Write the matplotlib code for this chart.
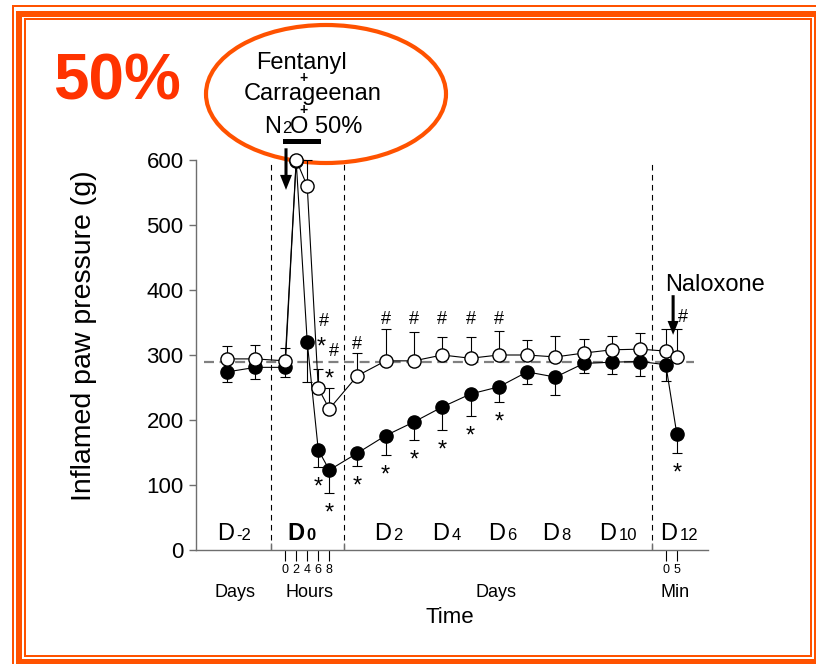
import numpy as np
import matplotlib
matplotlib.use("Agg")
from matplotlib import pyplot as plt
from matplotlib.patches import Ellipse, Rectangle

plt.rcParams["font.family"] = ["Liberation Sans", "DejaVu Sans"]

# protocol time points, by segment of the broken time axis
pre_days = [-2, -1]
hours = [0, 2, 4, 6, 8]
post_days = [1, 2, 3, 4, 5, 6, 7, 8, 9, 10, 11]
minutes = [0, 5]

# open circles: N2O 50% group, filled circles: control group (mean, SEM)
open_mean = [294, 294, 291, 600, 560, 249, 217, 268, 291, 291, 300, 295,
             300, 300, 297, 303, 308, 309, 306, 297]
open_sem = [20, 22, 20, 0, 40, 30, 32, 35, 49, 44, 27, 32, 37, 23, 33, 22,
            21, 25, 34, 43]
filled_mean = [274, 281, 281, 598, 320, 154, 123, 149, 176, 197, 220, 240,
               251, 274, 266, 287, 289, 290, 285, 178]
filled_sem = [16, 18, 15, 0, 62, 26, 35, 20, 30, 28, 35, 34, 23, 19, 28,
              15, 18, 22, 25, 29]
baseline_value = 290

# '*' under the control points (index into the series)
filled_star_idx = [5, 6, 7, 8, 9, 10, 11, 12, 19]

day_labels = [("D", "-2"), ("D", "0"), ("D", "2"), ("D", "4"), ("D", "6"),
              ("D", "8"), ("D", "10"), ("D", "12")]
hour_ticks = ["0", "2", "4", "6", "8"]
minute_ticks = ["0", "5"]


# piecewise positions along the compressed time axis
def pos_pre(d):
    return 3.1 + d


def pos_hour(h):
    return 3.15 + 0.195 * h


def pos_day(d):
    return 4.7 + d


def pos_min(m):
    return 16.6 + 0.078 * m


x = np.array([pos_pre(d) for d in pre_days] + [pos_hour(h) for h in hours]
             + [pos_day(d) for d in post_days] + [pos_min(m) for m in minutes])
open_mean = np.array(open_mean)
filled_mean = np.array(filled_mean)
open_sem = np.array(open_sem)
filled_sem = np.array(filled_sem)

breaks = [2.65, 5.23, 16.12]

W, H = 816, 664
fig = plt.figure(figsize=(W / 100, H / 100), dpi=100)
ax = fig.add_axes([196 / W, 1 - 550 / H, 512 / W, 390 / H])
ax.set_zorder(1)
ax.patch.set_visible(False)

orange = "#ff5200"
red = "#ff3300"


def fig_px(px, py):
    return px / W, 1 - py / H


# triple frame around the figure
for (l, t, r, b, lw) in [(13, 6, 840, 690, 2), (19, 14, 816.5, 661.5, 6),
                         (25, 19, 810.5, 655.5, 2)]:
    x0, y1 = fig_px(l, t)
    x1, y0 = fig_px(r, b)
    fig.add_artist(Rectangle((x0, y0), x1 - x0, y1 - y0, fill=False,
                             edgecolor=orange, lw=lw * 0.72,
                             transform=fig.transFigure, zorder=0.2))

# ellipse with the treatment
cx, cy = fig_px(326, 94)
fig.add_artist(Ellipse((cx, cy), 240 / W, 138 / H, fill=False,
                       edgecolor=orange, lw=3.0, transform=fig.transFigure,
                       zorder=0.5))
fig.text(*fig_px(301, 69), "Fentanyl", fontsize=17, ha="center",
         va="baseline")
fig.text(*fig_px(304, 78), "+", fontsize=10, fontweight="bold",
         ha="center", va="center")
fig.text(*fig_px(313, 100), "Carrageenan", fontsize=17, ha="center",
         va="baseline")
fig.text(*fig_px(304, 110), "+", fontsize=10, fontweight="bold",
         ha="center", va="center")
fig.text(*fig_px(281, 133), "N", fontsize=17, ha="right", va="baseline")
fig.text(*fig_px(282, 133), "2", fontsize=12, ha="left", va="baseline")
fig.text(*fig_px(290, 133), "O 50%", fontsize=17, ha="left", va="baseline")
fig.text(*fig_px(117, 100), "50%", fontsize=46, fontweight="bold",
         color=red, ha="center", va="baseline")

# reference line and segment separators
ax.plot([0.3, 17.6], [baseline_value] * 2, color="#808080", lw=1.6,
        dashes=(4.5, 2.5), zorder=1)
for b in breaks:
    ax.plot([b, b], [0, 600], color="black", lw=0.8, dashes=(5, 4),
            zorder=1)

# error bars: up for the open group, down for the filled group
zeros = np.zeros_like(open_sem)
ax.errorbar(x, open_mean, yerr=[zeros, open_sem], fmt="none",
            ecolor="black", elinewidth=0.8, capsize=3.5, capthick=0.8,
            zorder=2, clip_on=False)
ax.errorbar(x, filled_mean, yerr=[filled_sem, zeros], fmt="none",
            ecolor="black", elinewidth=0.8, capsize=3.5, capthick=0.8,
            zorder=2, clip_on=False)

ax.plot(x, filled_mean, "-", color="black", lw=0.8, marker="o", ms=9.5,
        mfc="black", mec="black", mew=1, zorder=3, clip_on=False)
ax.plot(x, open_mean, "-", color="black", lw=0.8, marker="o", ms=9.5,
        mfc="white", mec="black", mew=1, zorder=4, clip_on=False)

# significance marks
for i in filled_star_idx:
    ax.annotate("*", (x[i], filled_mean[i] - filled_sem[i]),
                xytext=(0, -7), textcoords="offset points", ha="center",
                va="top", fontsize=17, zorder=5)
hash_marks = [(pos_hour(6) + 0.2, 351), (pos_hour(8) + 0.15, 305),
              (pos_day(1), 316), (pos_day(2), 354), (pos_day(3), 354),
              (pos_day(4), 354), (pos_day(5), 354), (pos_day(6), 354),
              (pos_min(5) + 0.22, 358)]
for hx, hy in hash_marks:
    ax.text(hx, hy, "#", ha="center", va="center", fontsize=13, zorder=5)
for sx, sy in [(pos_hour(6) + 0.12, 312), (pos_hour(8), 262)]:
    ax.text(sx, sy, "*", ha="center", va="center", fontsize=17, zorder=5)

# day labels along the bottom of the plot
label_x = [1.38, 3.87, 6.93, 9.0, 10.96, 12.87, 14.88, 17.05]
for lx, (main, sub) in zip(label_x, day_labels):
    wt = "bold" if sub == "0" else "normal"
    ax.annotate(main, (lx, 15), xytext=(-0.8, 0), textcoords="offset points",
                ha="right", va="baseline", fontsize=17, fontweight=wt)
    ax.annotate(sub, (lx, 15), xytext=(0.8, 0), textcoords="offset points",
                ha="left", va="baseline", fontsize=12, fontweight=wt)

# drug exposure bar and injection arrows
ax.plot([pos_hour(0), pos_hour(6)], [629, 629], color="black", lw=3.6,
        solid_capstyle="projecting", clip_on=False)
ax.annotate("", xy=(pos_hour(0) + 0.03, 554), xytext=(pos_hour(0) + 0.03, 618),
            arrowprops=dict(width=2.2, headwidth=8.6, headlength=10.8,
                            facecolor="black", edgecolor="none", shrink=0),
            annotation_clip=False)
ax.annotate("", xy=(pos_min(3.3), 331), xytext=(pos_min(3.3), 392),
            arrowprops=dict(width=2.2, headwidth=8, headlength=10,
                            facecolor="black", edgecolor="none", shrink=0),
            annotation_clip=False)
ax.text(pos_min(0) - 0.02, 408, "Naloxone", fontsize=17, ha="left",
        va="center")

# axes
ax.set_xlim(0, 18.09)
ax.set_ylim(0, 600)
for side in ("top", "right"):
    ax.spines[side].set_visible(False)
for side in ("left", "bottom"):
    ax.spines[side].set_color("#6e6e6e")
    ax.spines[side].set_linewidth(1.0)
ax.set_yticks([0, 100, 200, 300, 400, 500, 600])
ax.tick_params(axis="y", direction="out", length=5, width=1.0,
               color="#6e6e6e", labelsize=16, pad=4)
ax.set_xticks(breaks)
ax.set_xticklabels([])
ax.tick_params(axis="x", which="major", direction="in", length=5, width=1.0,
               color="#6e6e6e")
ax.set_xticks([pos_hour(h) for h in hours] + [pos_min(m) for m in minutes],
              minor=True)
ax.set_xticklabels(hour_ticks + minute_ticks, minor=True)
ax.tick_params(axis="x", which="minor", direction="out", length=8,
               width=0.8, color="black", labelsize=9, pad=2)

for gx, txt in [(1.38, "Days"), (4.0, "Hours"), (10.6, "Days"),
                (16.93, "Min")]:
    ax.text(gx, -0.108, txt, transform=ax.get_xaxis_transform(),
            ha="center", va="center", fontsize=13)
ax.text(0.496, -0.172, "Time", transform=ax.transAxes, ha="center",
        va="center", fontsize=16)
ax.text(-0.219, 0.55, "Inflamed paw pressure (g)", transform=ax.transAxes,
        rotation=90, ha="center", va="center", fontsize=20.5)

fig.savefig("out.png", dpi=100)
